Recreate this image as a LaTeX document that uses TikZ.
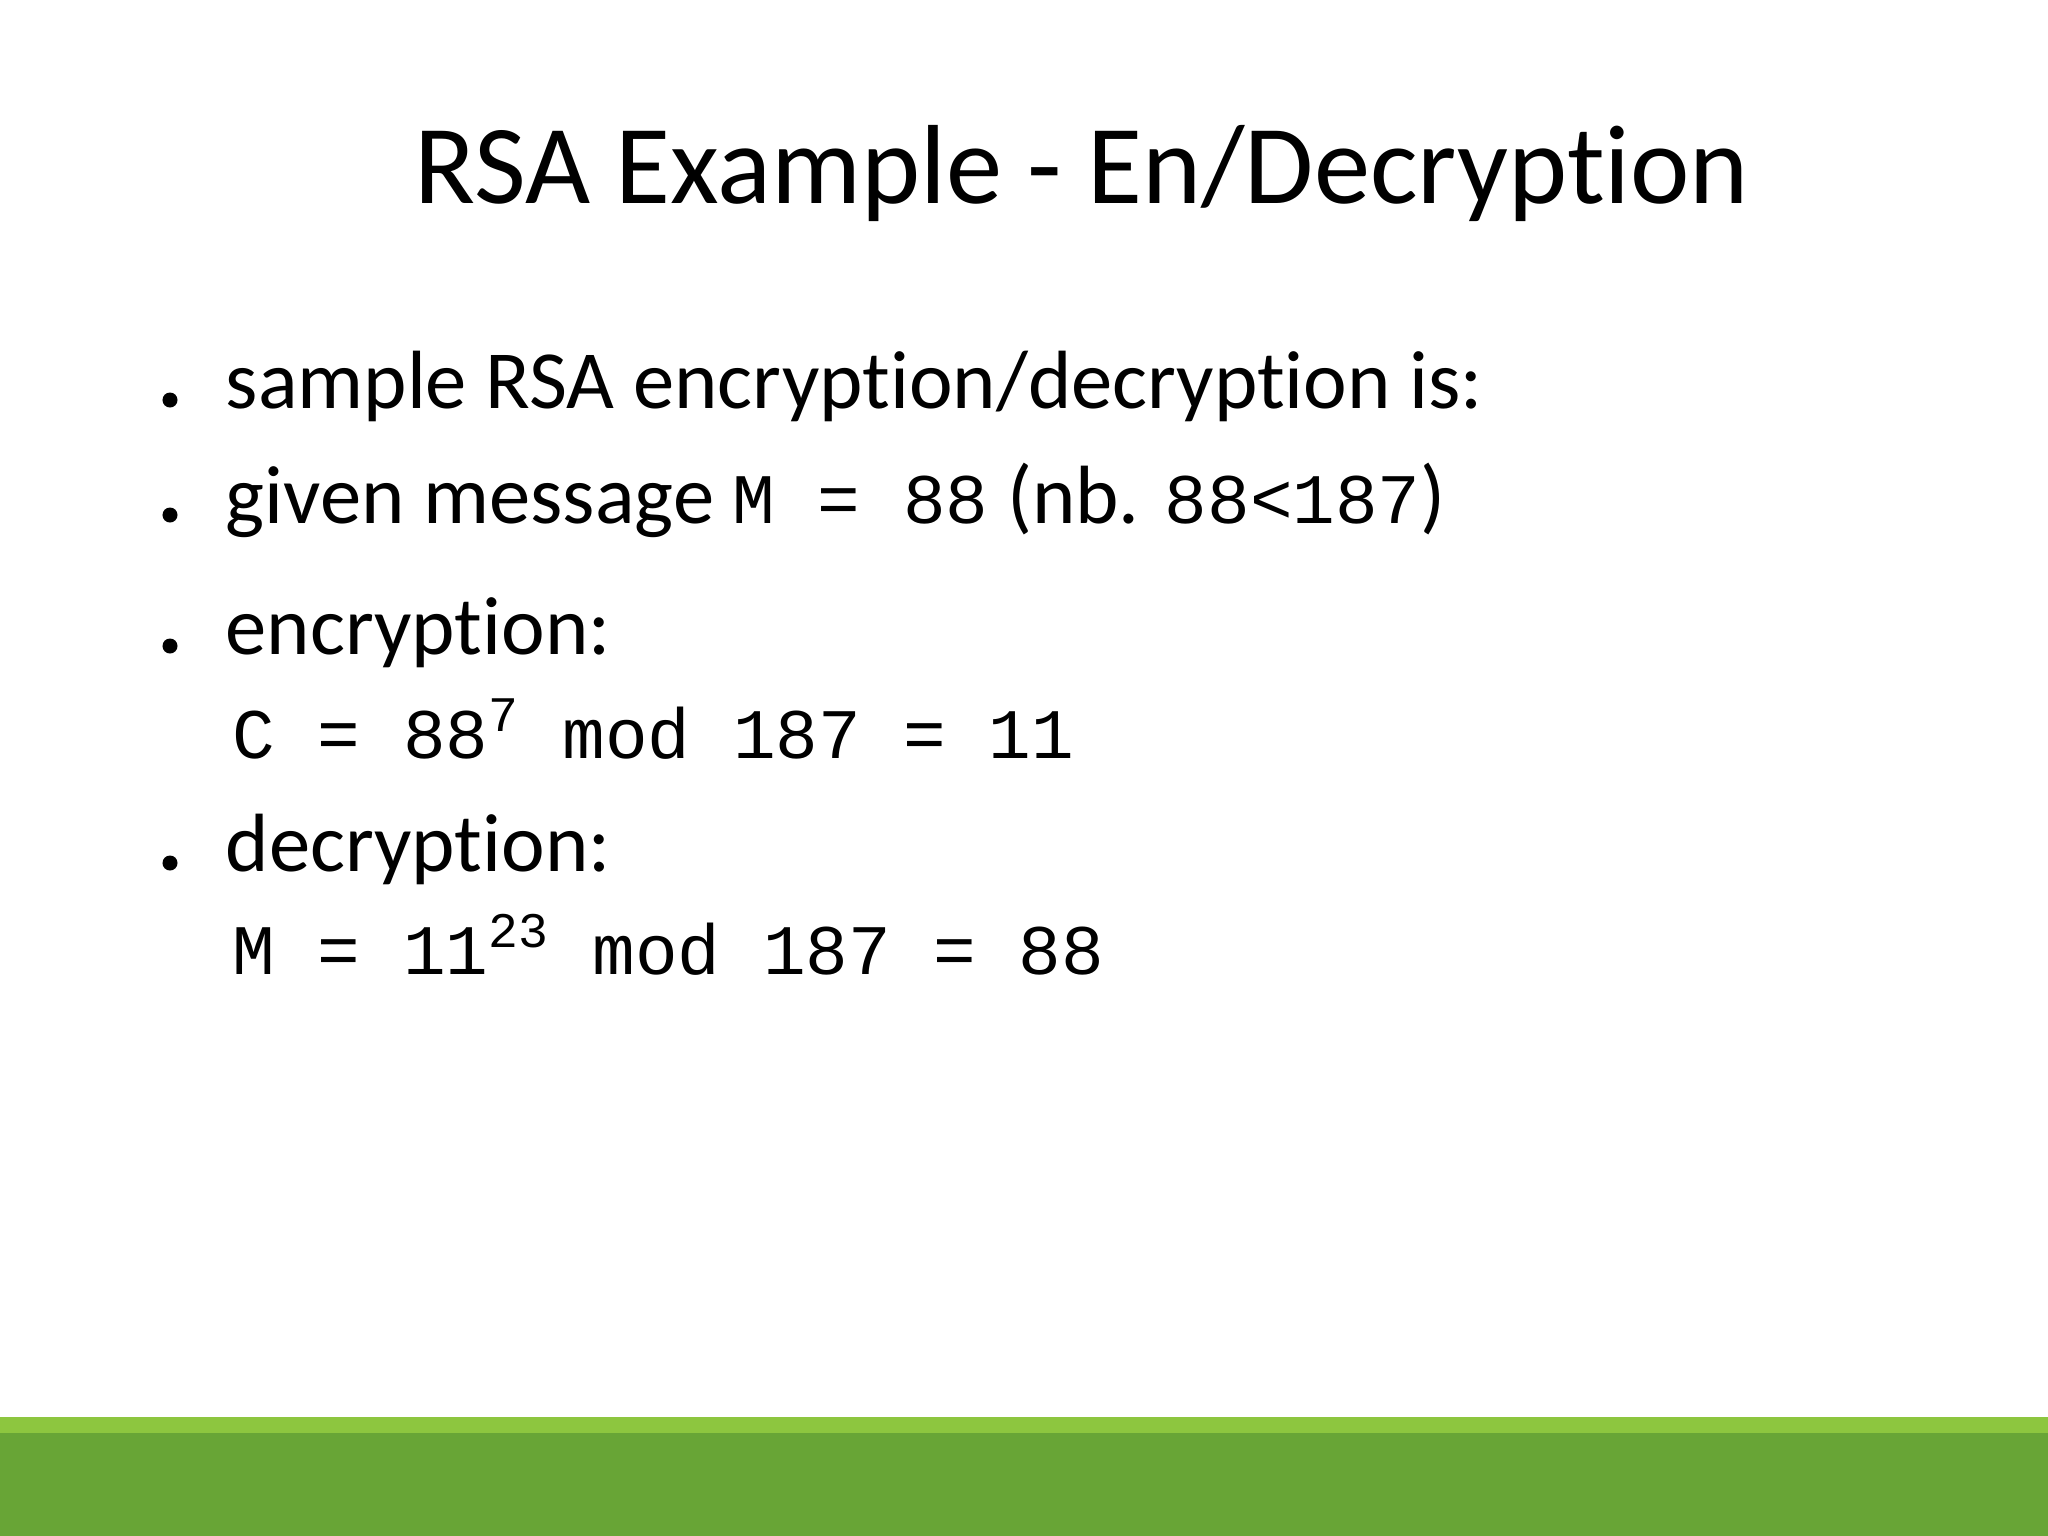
\documentclass[tikz,border=0pt]{standalone}
\usepackage{fontspec}
\setmainfont{Carlito}[Ligatures=NoCommon]
\newfontfamily\cmono{Liberation Mono}
\begin{document}
\begin{tikzpicture}[x=0.01cm,y=-0.01cm,
  txt/.style={anchor=base west,inner sep=0pt,font=\fontsize{23.5pt}{26pt}\selectfont},
  mono/.style={anchor=base west,inner sep=0pt,font=\fontsize{20.2pt}{22pt}\selectfont\cmono},
  dot/.style={circle,fill=black,inner sep=0pt,minimum size=0.15cm}]
\useasboundingbox (0,0) rectangle (2048,1536);
\fill[white] (0,0) rectangle (2048,1536);
\fill[fill={rgb,255:red,141;green,198;blue,63}] (0,1417) rectangle (2048,1433);
\fill[fill={rgb,255:red,104;green,165;blue,54}] (0,1433) rectangle (2048,1536);
\node[anchor=base,inner sep=0pt,font=\fontsize{32pt}{36pt}\selectfont] (title) at (1082,203) {RSA Example - En/Decryption};
\node[dot] (b1) at (170,400) {};
\node[txt] (t1) at (225,408) {sample RSA encryption/decryption is:};
\node[dot] (b2) at (170,515) {};
\node[txt] (t2) at (225,523) {given message {\fontsize{20.2pt}{22pt}\selectfont\cmono M = 88} (nb. {\fontsize{20.2pt}{22pt}\selectfont\cmono 88<187})};
\node[dot] (b3) at (170,646) {};
\node[txt] (t3) at (225,654) {encryption:};
\node[mono] (e1) at (232,758) {C = 88\textsuperscript{7} mod 187 = 11};
\node[dot] (b4) at (170,863) {};
\node[txt] (t4) at (225,871) {decryption:};
\node[mono] (d1) at (232,974) {M = 11\textsuperscript{23} mod 187 = 88};
\end{tikzpicture}
\end{document}
